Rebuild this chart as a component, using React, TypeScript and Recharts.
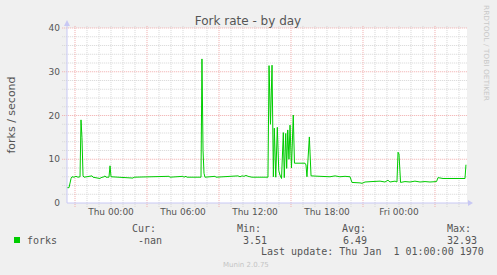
import { LineChart, Line, XAxis, YAxis, CartesianGrid, ReferenceLine } from 'recharts';

// hours since Wed 00:00 and fork rate (forks / second)
const hours = [
  20.33, 20.5, 20.67, 20.75, 20.92, 21.08, 21.25, 21.42, 21.5, 21.58, 21.67, 21.75,
  22.42, 22.5, 23.08, 23.17, 23.42, 23.5, 23.58, 23.83, 23.92, 24.0, 25.83, 25.92,
  28.83, 28.92, 30.0, 30.08, 30.25, 30.33, 31.5, 31.58, 31.67, 31.75, 31.83, 32.67,
  32.75, 34.58, 34.75, 34.92, 35.08, 35.25, 35.42, 35.58, 35.75, 37.08, 37.17, 37.29,
  37.42, 37.53, 37.61, 37.73, 37.86, 37.98, 38.08, 38.21, 38.36, 38.44, 38.56, 38.64,
  38.73, 38.83, 38.92, 39.04, 39.19, 39.29, 40.17, 40.25, 40.33, 40.53, 40.67, 41.42,
  42.25, 42.67, 43.08, 43.5, 43.92, 44.08, 44.75, 44.92, 45.17, 45.75, 46.42, 46.83,
  47.08, 47.25, 47.67, 47.83, 47.92, 48.0, 48.13, 48.5, 48.92, 49.33, 49.75, 50.17,
  50.58, 51.13, 51.25, 51.67, 53.5, 53.58,
];
const forks = [
  3.5, 3.5, 5.6, 6.0, 5.9, 6.1, 5.9, 6.0, 19.0, 15.0, 6.2, 5.9,
  6.2, 5.9, 5.6, 5.8, 6.0, 6.2, 5.9, 5.9, 8.5, 6.0, 5.7, 5.9,
  6.1, 5.9, 6.1, 5.9, 6.1, 5.9, 5.9, 32.93, 12.0, 6.8, 5.9, 6.1,
  5.9, 6.2, 6.0, 6.2, 6.1, 6.3, 6.1, 6.0, 5.9, 5.9, 31.4, 18.0,
  31.5, 6.0, 17.1, 5.9, 17.3, 7.4, 6.4, 5.6, 16.1, 5.8, 15.9, 7.9,
  16.7, 10.0, 17.8, 8.0, 20.1, 9.1, 9.1, 8.7, 6.0, 15.1, 6.2, 6.1,
  6.0, 6.2, 6.0, 6.1, 6.0, 4.7, 4.6, 4.5, 4.8, 4.9, 5.0, 4.8,
  5.2, 4.8, 5.0, 4.8, 11.6, 11.2, 4.7, 4.9, 4.8, 5.0, 4.8, 4.9,
  4.8, 4.9, 5.8, 5.6, 5.6, 8.75,
];

const tickHours = [24, 30, 36, 42, 48];
const tickLabels = ['Thu 00:00', 'Thu 06:00', 'Thu 12:00', 'Thu 18:00', 'Fri 00:00'];
const majorHours = [21, 27, 33, 39, 45, 51];
const minorHours = [
  22, 23, 24, 25, 26, 28, 29, 30, 31, 32, 34, 35, 36, 37, 38, 40, 41, 42, 43, 44,
  46, 47, 48, 49, 50, 52, 53,
];
const yTicks = [0, 10, 20, 30, 40];
const majorY = [10, 20, 30, 40];
const minorY = [2, 4, 6, 8, 12, 14, 16, 18, 22, 24, 26, 28, 32, 34, 36, 38];

const statLabels = ['Cur:', 'Min:', 'Avg:', 'Max:'];
const statValues = ['-nan', '3.51', '6.49', '32.93'];

const data = hours.map((h, i) => ({ h, forks: forks[i] }));

const W = 497;
const H = 275;
const X0 = 20.333;
const X1 = 53.667;
const sans = 'DejaVu Sans, sans-serif';
const mono = 'DejaVu Sans Mono, monospace';
const axisColor = '#c8c8f4';
const minorColor = '#d6d6d6';
const majorColor = '#f0acac';

const headerX = [132, 237, 342, 447];
const valueX = [138, 243, 343, 447];

// grid lines poke a little past the axes, like rrdtool's
const vSeg = (h: number) => [{ x: h, y: -0.9 }, { x: h, y: 40.6 }];
const hSeg = (v: number) => [{ x: X0 - 0.4, y: v }, { x: X1, y: v }];

export default function App() {
  return (
    <div style={{ position: 'fixed', left: 0, top: 0, width: W, height: H, background: '#f0f0f0' }}>
      <LineChart
        width={W}
        height={H}
        data={data}
        margin={{ top: 28, right: 30, bottom: 42, left: 7 }}
      >
        <CartesianGrid fill="#ffffff" stroke="none" horizontal={false} vertical={false} />
        {minorHours.map((h) => (
          <ReferenceLine key={'mh' + h} segment={vSeg(h)} ifOverflow="visible" stroke={minorColor} strokeDasharray="1 1" />
        ))}
        {minorY.map((v) => (
          <ReferenceLine key={'my' + v} segment={hSeg(v)} ifOverflow="visible" stroke={minorColor} strokeDasharray="1 1" />
        ))}
        {majorHours.map((h) => (
          <ReferenceLine key={'Mh' + h} segment={vSeg(h)} ifOverflow="visible" stroke={majorColor} strokeDasharray="1 1" />
        ))}
        {majorY.map((v) => (
          <ReferenceLine key={'My' + v} segment={hSeg(v)} ifOverflow="visible" stroke={majorColor} strokeDasharray="1 1" />
        ))}
        <XAxis
          dataKey="h"
          type="number"
          domain={[X0, X1]}
          ticks={tickHours}
          tickFormatter={(v: number) => tickLabels[tickHours.indexOf(v)]}
          interval={0}
          height={30}
          tickSize={0}
          tickMargin={6}
          axisLine={{ stroke: axisColor }}
          tick={{ fill: '#555', fontSize: 9, fontFamily: sans }}
          allowDataOverflow
        />
        <YAxis
          type="number"
          domain={[0, 40]}
          ticks={yTicks}
          width={60}
          tickSize={0}
          tickMargin={7}
          axisLine={{ stroke: axisColor }}
          tick={{ fill: '#555', fontSize: 9, fontFamily: sans }}
          allowDataOverflow
        />
        <Line
          type="linear"
          dataKey="forks"
          stroke="#00cc00"
          strokeWidth={1}
          dot={false}
          isAnimationActive={false}
        />
      </LineChart>
      <svg
        width={W}
        height={H}
        style={{ position: 'absolute', left: 0, top: 0, pointerEvents: 'none' }}
      >
        {/* axis arrows */}
        <line x1={67} y1={28} x2={67} y2={24} stroke={axisColor} />
        <polygon points="64,26 70,26 67,20" fill={axisColor} />
        <line x1={467} y1={203} x2={469} y2={203} stroke={axisColor} />
        <polygon points="468,200 468,206 473,203" fill={axisColor} />

        <text x={248} y={25} textAnchor="middle" fontFamily={sans} fontSize={12} fill="#555">
          Fork rate - by day
        </text>
        <text
          x={15}
          y={115}
          transform="rotate(-90 15 115)"
          textAnchor="middle"
          fontFamily={sans}
          fontSize={11}
          fill="#555"
        >
          forks / second
        </text>
        <text
          x={483.5}
          y={5}
          transform="rotate(90 483.5 5)"
          fontFamily={sans}
          fontSize={7}
          textLength={96}
          lengthAdjust="spacingAndGlyphs"
          fill="#c8c8c8"
        >
          RRDTOOL / TOBI OETIKER
        </text>

        {statLabels.map((s, i) => (
          <text key={s} x={headerX[i]} y={232} fontFamily={mono} fontSize={10} fill="#555">
            {s}
          </text>
        ))}
        <rect x={14} y={237} width={6} height={6} fill="#00cc00" />
        <text x={27} y={243.5} fontFamily={mono} fontSize={10} fill="#555">
          forks
        </text>
        {statValues.map((s, i) => (
          <text key={'v' + i} x={valueX[i]} y={243.5} fontFamily={mono} fontSize={10} fill="#555">
            {s}
          </text>
        ))}
        <text x={261} y={254.5} fontFamily={mono} fontSize={10} fill="#555" xmlSpace="preserve">
          Last update: Thu Jan  1 01:00:00 1970
        </text>
        <text x={223} y={267} fontFamily={sans} fontSize={7} fill="#c4c4c4">
          Munin 2.0.75
        </text>
      </svg>
    </div>
  );
}
